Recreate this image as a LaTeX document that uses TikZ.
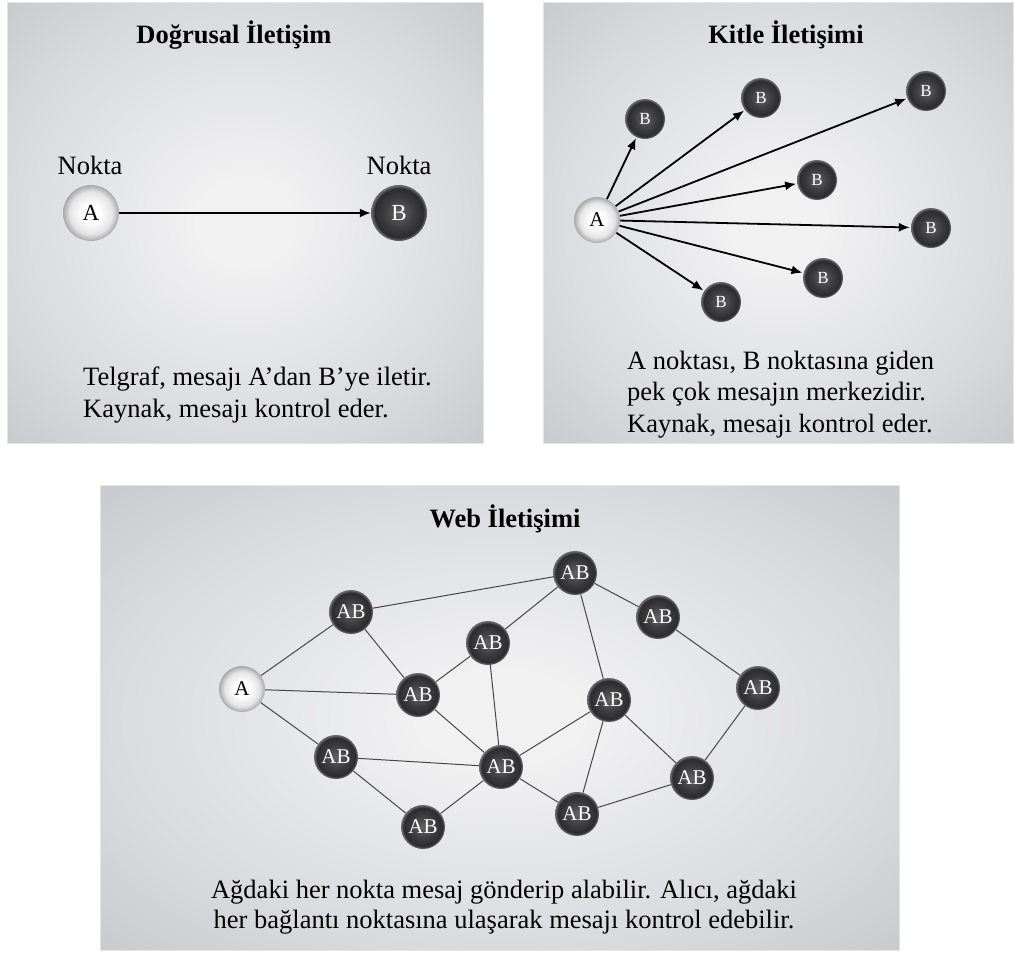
\documentclass[tikz,border=0pt]{standalone}
\usepackage{fontspec}
\setmainfont{Liberation Serif}
\usetikzlibrary{arrows.meta}
\definecolor{pnlin}{RGB}{241,241,242}
\definecolor{pnlmid}{RGB}{217,218,221}
\definecolor{pnlout}{RGB}{200,201,205}
\definecolor{dkin}{RGB}{98,98,100}
\definecolor{dkmid}{RGB}{62,62,64}
\definecolor{dkedge}{RGB}{44,44,46}
\definecolor{dkrim}{RGB}{105,105,108}
\definecolor{ltin}{RGB}{253,253,253}
\definecolor{ltmid}{RGB}{228,228,229}
\definecolor{ltout}{RGB}{168,168,170}
\pgfdeclareradialshading{panelbg}{\pgfpoint{0bp}{0bp}}{color(0bp)=(pnlin); color(5bp)=(pnlin); color(25bp)=(pnlmid); color(36bp)=(pnlout); color(50bp)=(pnlout)}
\pgfdeclareradialshading{darkball}{\pgfpoint{0bp}{0bp}}{color(0bp)=(dkin); color(13bp)=(dkmid); color(22bp)=(dkedge); color(24.5bp)=(dkrim); color(50bp)=(dkrim)}
\pgfdeclareradialshading{lightball}{\pgfpoint{0bp}{0bp}}{color(0bp)=(ltin); color(9bp)=(ltin); color(19bp)=(ltmid); color(25bp)=(ltout); color(50bp)=(ltout)}
\tikzset{
  panel/.style={shading=panelbg, draw=black!10, line width=0.8pt},
  ball/.style={circle, inner sep=0pt},
  darkb/.style={ball, shading=darkball, text=white},
  lightb/.style={ball, shading=lightball, text=black},
  bigfs/.style={font=\fontsize{23}{26}\selectfont},
  midfs/.style={font=\fontsize{21}{24}\selectfont},
  smallfs/.style={font=\fontsize{17}{20}\selectfont},
  body/.style={font=\fontsize{26.5}{31.5}\selectfont, inner sep=0pt},
  title/.style={font=\bfseries\fontsize{26.5}{31.5}\selectfont, inner sep=0pt, anchor=base},
  arr/.style={-{Latex[length=11pt,width=9pt]}, line width=1.8pt, black},
  link/.style={line width=1pt, draw=black!72},
}
\begin{document}
\begin{tikzpicture}[x=1pt,y=-1pt]
\useasboundingbox (0,0) rectangle (1014,953);
% panels
\path[panel] (7,2) rectangle (483,443);
\path[panel] (543,2) rectangle (1013,443);
\path[panel] (100,485) rectangle (899,950);

% ---------- Panel 1 ----------
\node[title] (t1) at (234,43) {Doğrusal İletişim};
\node[body, anchor=base] (lblA) at (90,174) {Nokta};
\node[body, anchor=base] (lblB) at (399,174) {Nokta};
\node[lightb, bigfs, minimum size=56pt] (pA) at (91,213) {A};
\node[darkb, bigfs, minimum size=56pt] (pB) at (399,213) {B};
\draw[arr] (pA) -- (pB);
% anchor base = baseline of the last line
\node[body, align=left, anchor=base west] (d1) at (83,417) {Telgraf, mesajı A’dan B’ye iletir.\\Kaynak, mesajı kontrol eder.};

% ---------- Panel 2 ----------
\node[title] (t2) at (786,43) {Kitle İletişimi};
\node[lightb, midfs, minimum size=46pt] (kA) at (597,220) {A};
\node[darkb, smallfs, minimum size=40pt] (kb1) at (645,119) {B};
\node[darkb, smallfs, minimum size=40pt] (kb2) at (761,98) {B};
\node[darkb, smallfs, minimum size=40pt] (kb3) at (926,91) {B};
\node[darkb, smallfs, minimum size=40pt] (kb4) at (817,180) {B};
\node[darkb, smallfs, minimum size=40pt] (kb5) at (931,228) {B};
\node[darkb, smallfs, minimum size=40pt] (kb6) at (823,278) {B};
\node[darkb, smallfs, minimum size=40pt] (kb7) at (721,302) {B};
\foreach \b in {kb1,kb2,kb3,kb4,kb5,kb6,kb7}
  \draw[arr, shorten >=1pt] (kA) -- (\b);
\node[body, align=left, anchor=base west] (d2) at (627,432) {A noktası, B noktasına giden\\pek çok mesajın merkezidir.\\Kaynak, mesajı kontrol eder.};

% ---------- Panel 3 ----------
\node[title] (t3) at (505,527) {Web İletişimi};
\node[lightb, midfs, minimum size=46pt] (wa) at (242,689) {A};
\foreach \n/\x/\y in {w1/351/612, w2/575/573, w3/658/617, w4/488/643, w5/418/695, w6/609/700, w7/758/688, w8/336/757, w9/501/767, w10/692/778, w11/423/827, w12/577/814}
  \node[darkb, midfs, minimum size=44pt] (\n) at (\x,\y) {AB};
\foreach \p/\q in {wa/w1, wa/w5, wa/w8, w1/w2, w1/w5, w5/w4, w4/w2, w4/w9, w5/w9, w2/w6, w2/w3, w3/w7, w7/w10, w6/w9, w6/w12, w6/w10, w8/w9, w8/w11, w11/w9, w9/w12, w12/w10}
  \draw[link] (\p) -- (\q);
\node[body, align=center, anchor=base, font=\fontsize{26.5}{30}\selectfont] (d3) at (504,928) {Ağdaki her nokta mesaj gönderip alabilir. Alıcı, ağdaki\\her bağlantı noktasına ulaşarak mesajı kontrol edebilir.};
\end{tikzpicture}
\end{document}
